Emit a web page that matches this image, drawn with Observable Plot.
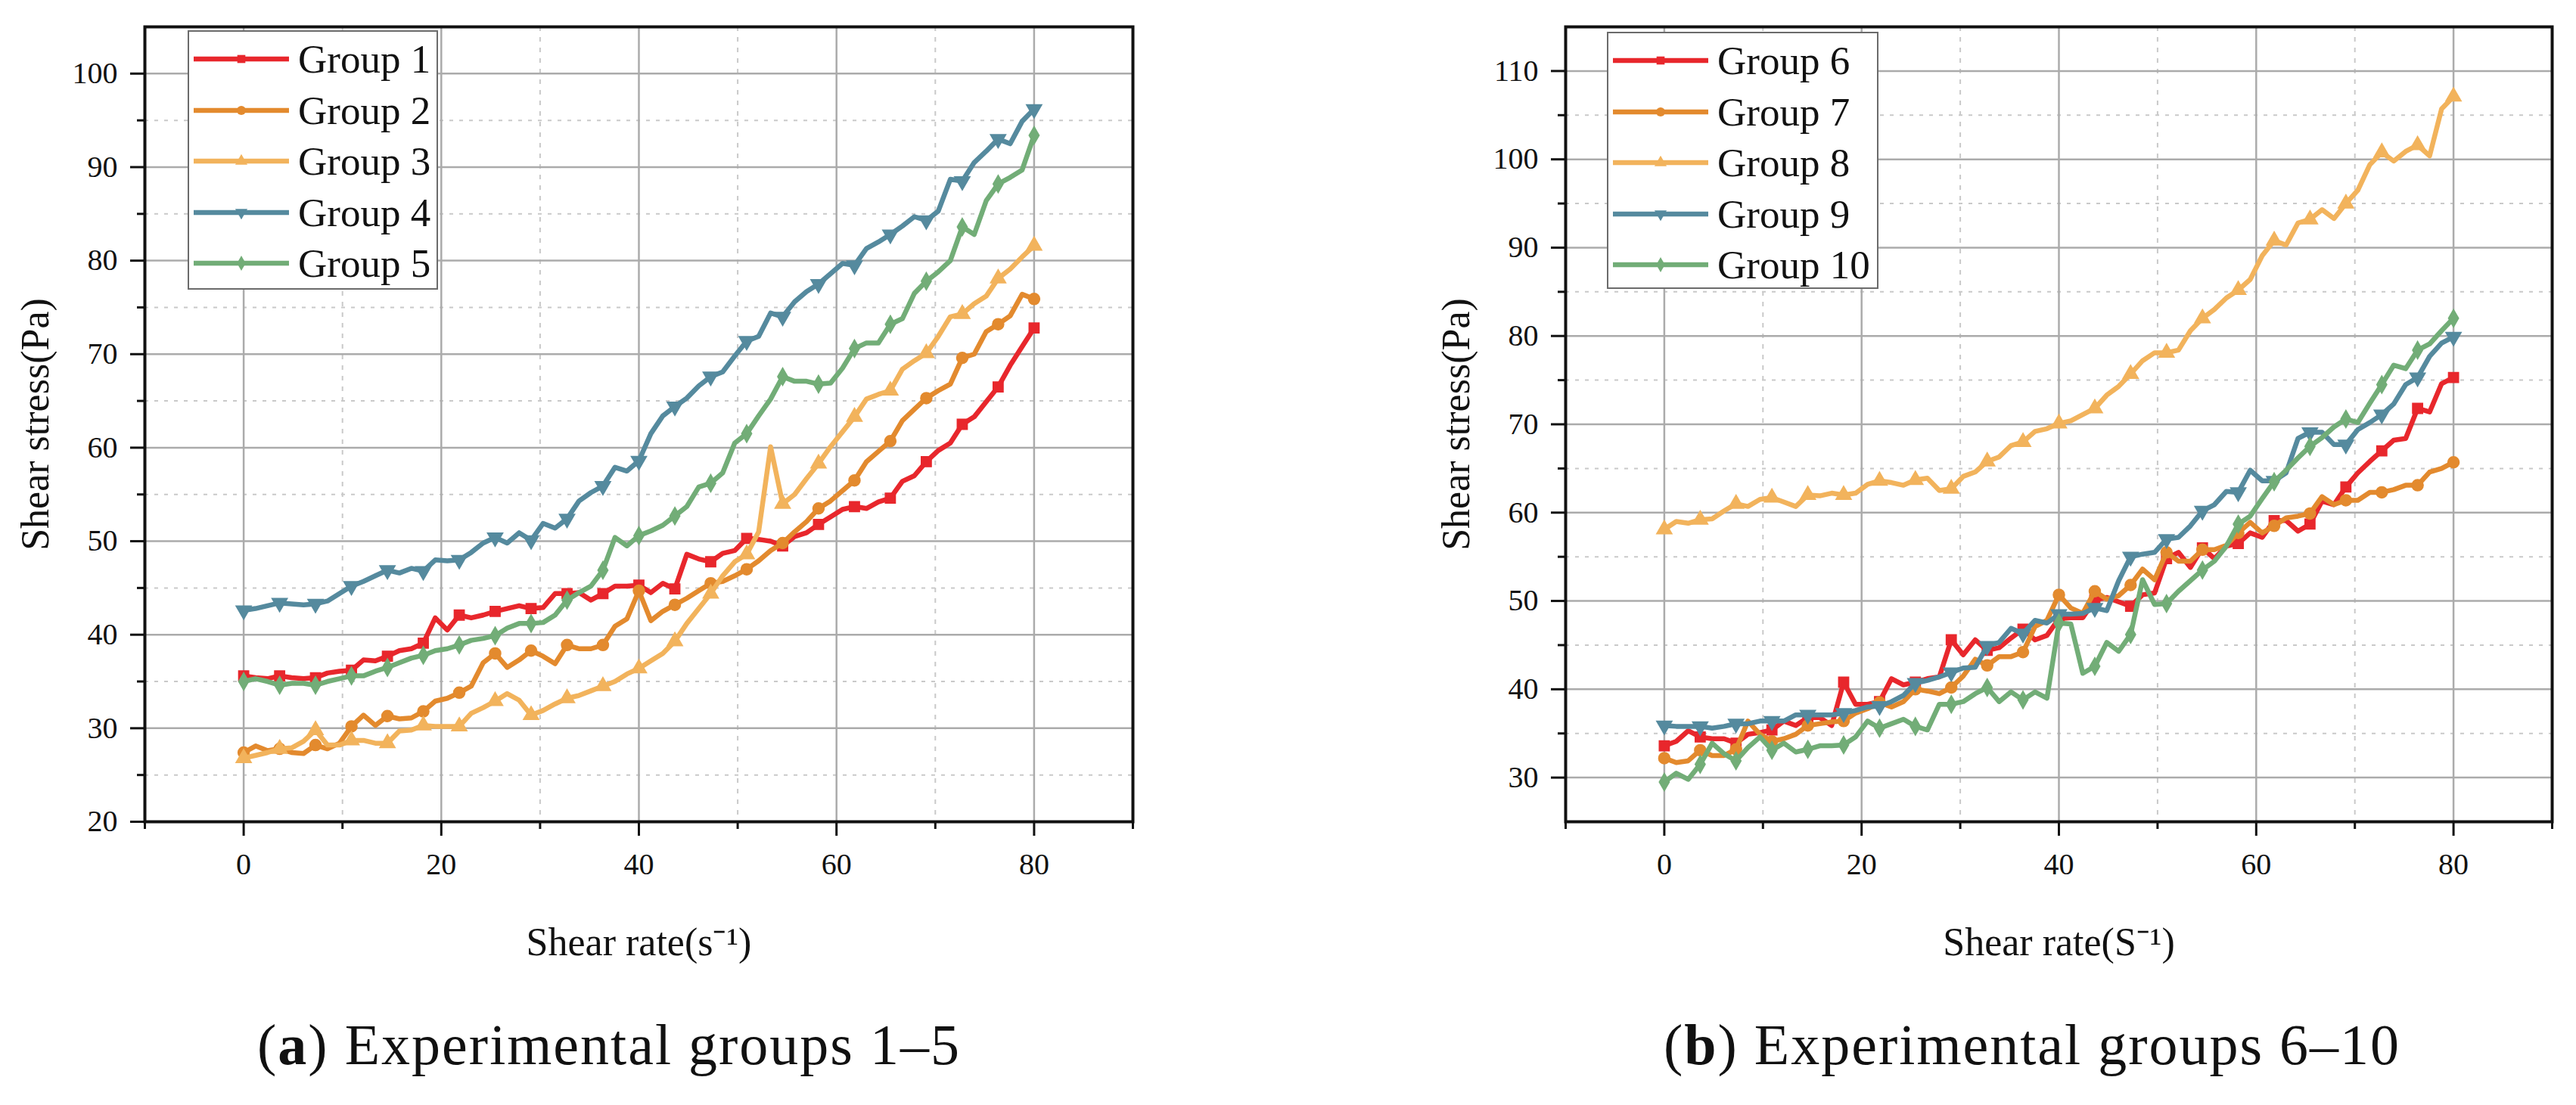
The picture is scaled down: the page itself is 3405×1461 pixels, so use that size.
<!DOCTYPE html>
<html>
<head>
<meta charset="utf-8">
<script src="https://cdn.jsdelivr.net/npm/d3@7"></script>
<script src="https://cdn.jsdelivr.net/npm/@observablehq/plot@0.6"></script>
<style>
  body { margin: 0; background: #fff; }
  #page { position: relative; width: 3405px; height: 1461px; overflow: hidden; background: #fff;
          font-family: "Liberation Serif", "Times New Roman", serif; color: #111; }
  .panel { position: absolute; top: 0; }
  .legend { position: absolute; background: #fff; border: 2px solid #6b6b6b; box-sizing: border-box; }
  .row { position: absolute; left: 0; height: 60px; display: flex; align-items: center; }
  .row svg { margin-left: 6px; }
  .row span { margin-left: 12px; font-size: 53px; line-height: 60px; color: #111; white-space: nowrap; }
  .caption { position: absolute; text-align: center; font-size: 76px; letter-spacing: 2px; line-height: 76px; color: #111; white-space: nowrap; }
</style>
</head>
<body>
<div id="page"></div>
<script>
// ---------- data ----------
const shearRate = [0, 1.21, 2.42, 3.64, 4.85, 6.06, 7.27, 8.48, 9.70, 10.91,
  12.12, 13.33, 14.55, 15.76, 16.97, 18.18, 19.39, 20.61, 21.82, 23.03,
  24.24, 25.45, 26.67, 27.88, 29.09, 30.30, 31.52, 32.73, 33.94, 35.15,
  36.36, 37.58, 38.79, 40.00, 41.21, 42.42, 43.64, 44.85, 46.06, 47.27,
  48.48, 49.70, 50.91, 52.12, 53.33, 54.55, 55.76, 56.97, 58.18, 59.39,
  60.61, 61.82, 63.03, 64.24, 65.45, 66.67, 67.88, 69.09, 70.30, 71.52,
  72.73, 73.94, 75.15, 76.36, 77.58, 78.79, 80.00];

const group1 = [35.6,35.4,35.3,35.6,35.4,35.3,35.4,35.9,36.1,36.2,
  37.3,37.2,37.7,38.3,38.5,39.1,41.8,40.5,42.1,41.8,
  42.1,42.5,42.8,43.1,42.8,42.9,44.4,44.4,44.5,43.7,
  44.4,45.2,45.2,45.3,44.5,45.5,44.9,48.6,48.1,47.8,
  48.7,49.0,50.3,50.2,50.0,49.5,50.5,50.9,51.8,52.6,
  53.4,53.7,53.5,54.2,54.6,56.4,57.0,58.5,59.7,60.5,
  62.5,63.3,64.9,66.5,68.8,70.8,72.8];
const group2 = [27.4,28.1,27.6,27.8,27.4,27.3,28.2,27.8,28.4,30.2,
  31.4,30.3,31.3,31.0,31.1,31.8,32.9,33.2,33.8,34.5,
  37.0,38.0,36.5,37.3,38.3,37.7,36.9,38.9,38.5,38.5,
  38.9,40.9,41.7,44.7,41.5,42.5,43.2,43.9,44.7,45.5,
  45.7,46.3,47.0,47.9,49.0,49.8,51.0,52.1,53.5,54.3,
  55.4,56.5,58.5,59.6,60.7,62.9,64.1,65.3,66.1,66.8,
  69.6,70.0,72.4,73.2,74.1,76.4,75.9];
const group3 = [26.8,27.1,27.4,27.8,27.9,28.6,29.8,28.2,28.2,28.7,
  28.7,28.4,28.4,29.7,29.8,30.3,30.2,30.2,30.2,31.6,
  32.2,32.9,33.7,33.0,31.4,31.9,32.6,33.2,33.5,34.0,
  34.5,35.0,35.8,36.4,37.2,38.0,39.3,41.2,42.8,44.4,
  46.3,47.8,48.6,51.0,60.1,54.0,55.0,56.7,58.3,60.1,
  61.7,63.3,65.2,65.7,66.1,68.4,69.3,70.1,71.9,74.0,
  74.3,75.4,76.2,78.1,79.1,80.4,81.6];
const group4 = [42.6,42.8,43.1,43.4,43.3,43.2,43.3,43.6,44.4,45.2,
  45.7,46.3,46.9,46.6,47.1,46.8,48.0,47.9,48.0,48.8,
  49.8,50.4,49.8,50.9,50.1,51.9,51.4,52.4,54.3,55.2,
  55.9,57.9,57.5,58.6,61.5,63.4,64.4,65.3,66.6,67.6,
  68.1,69.8,71.4,71.9,74.4,74.0,75.6,76.7,77.5,78.6,
  79.7,79.5,81.3,82.0,82.8,83.7,84.7,84.3,85.3,88.7,
  88.5,90.5,91.7,93.0,92.5,94.9,96.2];
const group5 = [35.0,35.3,35.0,34.6,34.8,34.8,34.6,35.0,35.3,35.6,
  35.6,36.1,36.5,37.0,37.5,37.8,38.3,38.5,38.9,39.4,
  39.6,39.9,40.7,41.2,41.2,41.3,42.1,43.7,44.5,45.2,
  46.9,50.4,49.5,50.6,51.1,51.7,52.7,53.7,55.8,56.2,
  57.3,60.5,61.5,63.4,65.2,67.6,67.1,67.1,66.8,66.9,
  68.5,70.6,71.2,71.2,73.2,73.8,76.5,77.8,78.8,80.0,
  83.6,82.8,86.4,88.2,88.9,89.7,93.4];
const group6 = [33.6,34.1,35.3,34.6,34.4,34.4,33.9,34.9,35.1,35.4,
  36.4,35.9,36.8,36.8,35.9,40.8,38.3,38.3,38.6,41.2,
  40.5,40.8,41.2,41.4,45.6,43.9,45.6,44.4,44.7,45.8,
  46.8,45.6,46.1,48.0,48.1,48.1,50.1,50.4,49.9,49.4,
  50.7,50.9,54.8,55.5,53.8,56.0,54.8,56.2,56.5,57.7,
  57.2,59.1,59.1,57.9,58.7,61.3,60.9,62.9,64.5,65.8,
  67.0,68.2,68.4,71.8,71.4,74.6,75.3];
const group7 = [32.2,31.7,31.9,33.1,32.5,32.5,33.2,36.4,34.9,34.1,
  34.4,34.9,35.9,36.1,36.3,36.4,37.3,37.8,38.5,38.0,
  38.6,40.0,39.8,39.5,40.2,41.5,43.4,42.7,43.7,43.7,
  44.2,47.1,47.8,50.7,49.2,48.6,51.1,50.2,50.6,51.8,
  53.6,52.4,55.5,54.5,54.5,55.8,55.8,56.3,57.7,58.9,
  57.7,58.5,59.4,59.6,59.9,61.8,60.9,61.4,61.4,62.3,
  62.3,62.6,63.1,63.1,64.6,65.0,65.7];
const group8 = [58.1,59.0,58.8,59.2,59.3,60.2,61.0,60.7,61.5,61.7,
  61.2,60.7,62.0,61.9,62.2,62.0,62.2,63.2,63.6,63.4,
  63.1,63.7,63.9,62.5,62.7,64.1,64.6,65.8,66.3,67.6,
  68.0,69.2,69.5,70.1,70.4,71.1,71.8,73.3,74.3,75.7,
  77.2,78.1,78.1,78.4,80.6,82.0,83.0,84.3,85.2,86.4,
  89.1,90.8,90.3,92.8,93.2,94.3,93.3,95.0,96.5,99.4,
  100.8,99.8,100.9,101.6,100.4,105.7,107.1];
const group9 = [35.9,35.8,35.8,35.8,35.6,35.8,36.1,36.1,36.4,36.4,
  36.4,37.1,37.1,37.1,37.1,37.3,37.6,38.0,38.1,38.6,
  39.3,40.7,41.0,41.4,41.9,42.4,42.5,44.9,45.3,46.9,
  46.3,47.8,47.5,48.5,48.5,48.6,49.2,48.9,52.3,55.0,
  55.3,55.5,57.0,57.2,58.5,60.2,60.9,62.4,62.3,64.8,
  63.6,63.6,64.5,68.4,69.1,69.1,67.7,67.7,69.4,70.2,
  71.1,72.3,74.5,75.3,77.7,79.2,79.9];
const group10 = [29.5,30.5,29.8,31.5,33.9,32.7,31.9,33.4,34.6,33.1,
  33.9,32.9,33.2,33.6,33.6,33.7,34.6,36.4,35.6,36.1,
  36.6,35.8,35.4,38.3,38.3,38.6,39.5,40.2,38.6,39.7,
  38.8,39.7,39.0,47.5,47.4,41.8,42.6,45.3,44.3,46.2,
  52.4,49.6,49.7,51.1,52.3,53.5,54.5,56.2,58.7,59.6,
  61.6,63.5,64.8,66.2,67.5,68.5,69.7,70.6,70.2,72.4,
  74.5,76.7,76.3,78.4,79.1,80.6,82.0];

const namesA = ["Group 1", "Group 2", "Group 3", "Group 4", "Group 5"];
const namesB = ["Group 6", "Group 7", "Group 8", "Group 9", "Group 10"];
const seriesA = [group1, group2, group3, group4, group5];
const seriesB = [group6, group7, group8, group9, group10];

const xMajor = [0, 20, 40, 60, 80];
const xMinor = [-10, 10, 30, 50, 70, 90];
const yMajorA = [20, 30, 40, 50, 60, 70, 80, 90, 100];
const yMinorA = [25, 35, 45, 55, 65, 75, 85, 95];
const yMajorB = [30, 40, 50, 60, 70, 80, 90, 100, 110];
const yMinorB = [35, 45, 55, 65, 75, 85, 95, 105];

const colors = ["#e8272c", "#e38a2e", "#f2b35c", "#558a9e", "#72ad77"];
const symbols = ["square", "circle", "triangle", "triangle", "diamond"];
const rotations = [0, 0, 0, 180, 0];
const radii = [7.5, 7.5, 7.5, 7.5, 7];

// ---------- drawing ----------
const page = document.getElementById("page");
const FONT = "'Liberation Serif', 'Times New Roman', serif";

function makePanel({names, series, yDomain, yMajor, yMinor, xLabel, width, marginLeft, marginRight, left}) {
  const data = names.flatMap((name, k) => series[k].map((v, i) => ({name, k, i, x: shearRate[i], y: v})));
  const marks = [
    Plot.ruleX(xMinor, {stroke: "#c9c9c9", strokeWidth: 2, strokeDasharray: "6,8"}),
    Plot.ruleY(yMinor, {stroke: "#c9c9c9", strokeWidth: 2, strokeDasharray: "5,8"}),
    Plot.ruleX(xMajor, {stroke: "#ababab", strokeWidth: 2.5}),
    Plot.ruleY(yMajor, {stroke: "#ababab", strokeWidth: 2.5})
  ];
  names.forEach((name, k) => {
    const d = data.filter(p => p.k === k);
    marks.push(Plot.line(d, {x: "x", y: "y", stroke: colors[k], strokeWidth: 6.5, strokeLinejoin: "round", strokeLinecap: "round"}));
    marks.push(Plot.dot(d.filter(p => p.i % 3 === 0), {
      x: "x", y: "y", symbol: symbols[k], fill: colors[k], stroke: colors[k], strokeWidth: 1.5,
      r: radii[k], rotate: rotations[k]
    }));
  });
  marks.push(
    Plot.axisX(xMajor, {tickSize: 19, tickPadding: 22, strokeWidth: 3, stroke: "#111", fontSize: 40, label: null}),
    Plot.axisX(xMinor, {tickSize: 10, strokeWidth: 3, stroke: "#111", fill: "none"}),
    Plot.axisX([], {tickSize: 0, label: xLabel, labelAnchor: "center", labelOffset: 176, labelArrow: "none", fontSize: 52}),
    Plot.axisY(yMajor, {tickSize: 19, tickPadding: 17, strokeWidth: 3, stroke: "#111", fontSize: 40, label: null}),
    Plot.axisY(yMinor, {tickSize: 10, strokeWidth: 3, stroke: "#111", fill: "none"}),
    Plot.axisY([], {tickSize: 0, label: "Shear stress(Pa)", labelAnchor: "center", labelOffset: 164, labelArrow: "none", fontSize: 52}),
    Plot.frame({stroke: "#111", strokeWidth: 4})
  );
  const chart = Plot.plot({
    width, height: 1280,
    marginLeft, marginRight, marginTop: 35, marginBottom: 194,
    x: {domain: [-10, 90]},
    y: {domain: yDomain},
    style: {fontFamily: FONT, color: "#111", background: "transparent", overflow: "visible"},
    marks
  });
  const holder = document.createElement("div");
  holder.className = "panel";
  holder.style.left = left + "px";
  holder.appendChild(chart);
  page.appendChild(holder);
}

function makeLegend(names, {left, top, width, height}) {
  const box = document.createElement("div");
  box.className = "legend";
  Object.assign(box.style, {left: left + "px", top: top + "px", width: width + "px", height: height + "px"});
  const symTypes = [d3.symbolSquare, d3.symbolCircle, d3.symbolTriangle, d3.symbolTriangle, d3.symbolDiamond];
  names.forEach((name, k) => {
    const row = document.createElement("div");
    row.className = "row";
    row.style.top = (36 + k * 67.5 - 30) + "px";
    const svg = d3.create("svg").attr("width", 126).attr("height", 30);
    svg.append("line").attr("x1", 0).attr("x2", 126).attr("y1", 15).attr("y2", 15)
      .attr("stroke", colors[k]).attr("stroke-width", 6.5);
    svg.append("path")
      .attr("d", d3.symbol(symTypes[k], Math.PI * 6 * 6)())
      .attr("fill", colors[k])
      .attr("transform", `translate(63,15) rotate(${rotations[k]})`);
    row.appendChild(svg.node());
    const span = document.createElement("span");
    span.textContent = name;
    row.appendChild(span);
    box.appendChild(row);
  });
  page.appendChild(box);
}

function makeCaption(letter, text, centerX) {
  const div = document.createElement("div");
  div.className = "caption";
  Object.assign(div.style, {left: (centerX - 700) + "px", width: "1400px", top: "1343px"});
  div.innerHTML = `(<b>${letter}</b>) ${text}`;
  page.appendChild(div);
}

makePanel({names: namesA, series: seriesA, yDomain: [20, 105], yMajor: yMajorA, yMinor: yMinorA,
  xLabel: "Shear rate(s⁻¹)", width: 1700, marginLeft: 191, marginRight: 203, left: 0});
makePanel({names: namesB, series: seriesB, yDomain: [25, 115], yMajor: yMajorB, yMinor: yMinorB,
  xLabel: "Shear rate(S⁻¹)", width: 1705, marginLeft: 369, marginRight: 32, left: 1700});

makeLegend(namesA, {left: 248, top: 40, width: 331, height: 343});
makeLegend(namesB, {left: 2124, top: 42, width: 359, height: 340});

makeCaption("a", "Experimental groups 1–5", 805);
makeCaption("b", "Experimental groups 6–10", 2686);
</script>
</body>
</html>
